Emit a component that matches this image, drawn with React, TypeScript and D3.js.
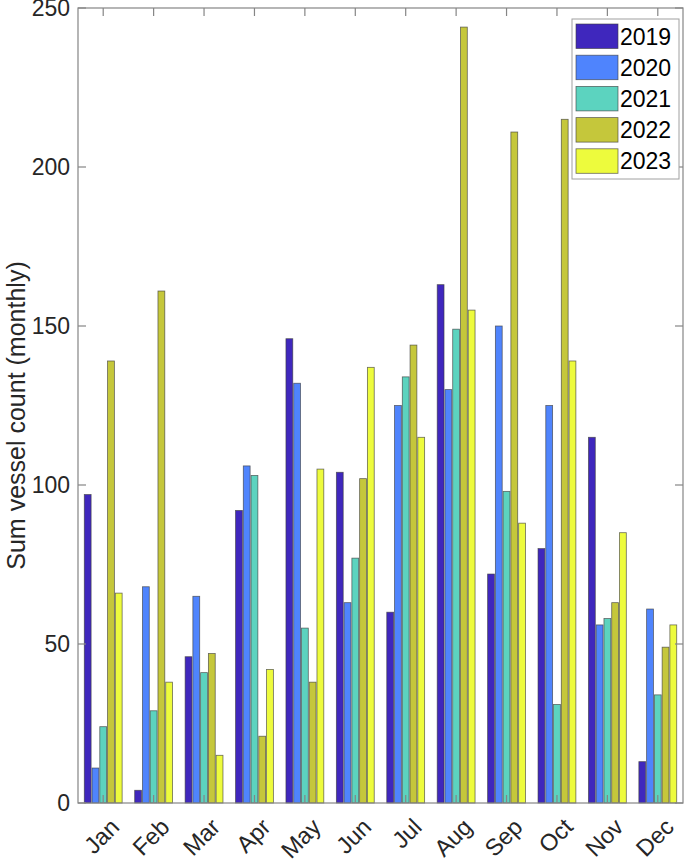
import React from 'react';
import * as d3 from 'd3';

const MONTHS = ['Jan', 'Feb', 'Mar', 'Apr', 'May', 'Jun', 'Jul', 'Aug', 'Sep', 'Oct', 'Nov', 'Dec'];
const YEARS = ['2019', '2020', '2021', '2022', '2023'];
const COLORS = ['#3f27bd', '#4f84fd', '#5cd3bf', '#c5c73b', '#edfb3d'];

// monthly counts per year (Jan..Dec)
const V2019 = [97, 4, 46, 92, 146, 104, 60, 163, 72, 80, 115, 13];
const V2020 = [11, 68, 65, 106, 132, 63, 125, 130, 150, 125, 56, 61];
const V2021 = [24, 29, 41, 103, 55, 77, 134, 149, 98, 31, 58, 34];
const V2022 = [139, 161, 47, 21, 38, 102, 144, 244, 211, 215, 63, 49];
const V2023 = [66, 38, 15, 42, 105, 137, 115, 155, 88, 139, 85, 56];
const SERIES = [V2019, V2020, V2021, V2022, V2023];

const Y_TICKS = [0, 50, 100, 150, 200, 250];

export default function App() {
  const width = 685;
  const height = 862;
  const left = 78;
  const right = 683;
  const top = 8;
  const bottom = 803;

  const x = d3.scaleBand<string>().domain(MONTHS).range([left, right]).paddingInner(0).paddingOuter(0);
  const groupW = x.bandwidth() * (5 / 6.5);
  const xSub = d3.scaleBand<string>().domain(YEARS).range([-groupW / 2, groupW / 2]);
  const barW = xSub.bandwidth() * 0.88;
  const y = d3.scaleLinear().domain([0, 250]).range([bottom, top]);

  const axisColor = '#858585';
  const textColor = '#262626';
  const font = 'Liberation Sans, Arial, sans-serif';
  const tickLen = 8;

  return (
    <svg width={width} height={height} style={{ position: 'absolute', left: 0, top: 0, background: '#fff' }} fontFamily={font}>
      {/* bars */}
      {MONTHS.map((m, mi) => (
        <g key={m} transform={`translate(${x(m)! + x.bandwidth() / 2},0)`}>
          {YEARS.map((yr, si) => {
            const v = SERIES[si][mi];
            const cx = xSub(yr)! + xSub.bandwidth() / 2;
            return (
              <rect
                key={yr}
                x={cx - barW / 2}
                y={y(v)}
                width={barW}
                height={y(0) - y(v)}
                fill={COLORS[si]}
                stroke="#3c3c3c"
                strokeOpacity={0.75}
                strokeWidth={0.8}
              />
            );
          })}
        </g>
      ))}

      {/* axes box */}
      <rect x={left} y={top} width={right - left} height={bottom - top} fill="none" stroke={axisColor} strokeWidth={1.2} />

      {/* y ticks */}
      {Y_TICKS.map(t => (
        <g key={t}>
          <line x1={left} x2={left + tickLen} y1={y(t)} y2={y(t)} stroke={axisColor} strokeWidth={1.2} />
          <line x1={right} x2={right - tickLen} y1={y(t)} y2={y(t)} stroke={axisColor} strokeWidth={1.2} />
          <text x={left - 8} y={y(t)} dy="0.36em" textAnchor="end" fontSize={23} fill={textColor}>{t}</text>
        </g>
      ))}

      {/* x ticks */}
      {MONTHS.map(m => {
        const cx = x(m)! + x.bandwidth() / 2;
        return (
          <g key={m}>
            <line x1={cx} x2={cx} y1={bottom} y2={bottom - tickLen} stroke={axisColor} strokeWidth={1.2} />
            <line x1={cx} x2={cx} y1={top} y2={top + tickLen} stroke={axisColor} strokeWidth={1.2} />
            <text
              transform={`translate(${cx + 5},${bottom + 13}) rotate(-45)`}
              textAnchor="end"
              dy="0.75em"
              fontSize={23.5}
              fill={textColor}
            >{m}</text>
          </g>
        );
      })}

      {/* y label */}
      <text
        transform={`translate(25,${(top + bottom) / 2 + 10}) rotate(-90)`}
        textAnchor="middle"
        fontSize={25}
        fill={textColor}
      >Sum vessel count (monthly)</text>

      {/* legend */}
      <g>
        <rect x={572} y={19} width={107} height={160} fill="#fff" stroke="#a0a0a0" strokeWidth={1} />
        {YEARS.map((yr, i) => (
          <g key={yr} transform={`translate(576,${24 + i * 31.2})`}>
            <rect x={0} y={0} width={42} height={24.5} fill={COLORS[i]} stroke="#3c3c3c" strokeOpacity={0.75} strokeWidth={0.8} />
            <text x={44} y={12.3} dy="0.36em" fontSize={23} fill="#000">{yr}</text>
          </g>
        ))}
      </g>
    </svg>
  );
}
